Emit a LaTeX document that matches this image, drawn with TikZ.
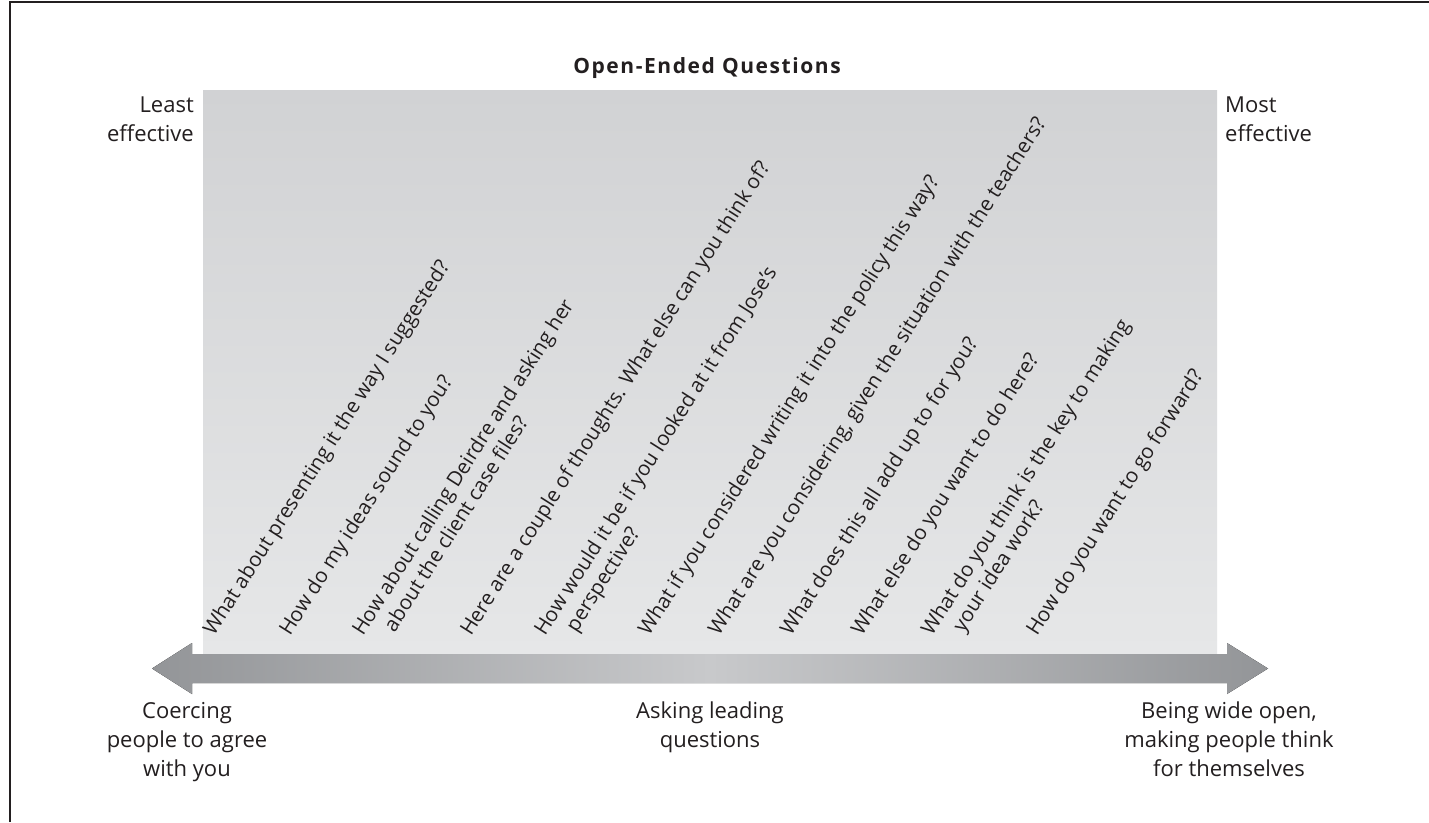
\documentclass[tikz,border=0pt]{standalone}
\usepackage{fontspec}
\setmainfont{Open Sans}
\definecolor{txt}{HTML}{231F20}
\definecolor{paneltop}{HTML}{D1D2D4}
\definecolor{panelbot}{HTML}{E6E7E8}
\definecolor{arrowend}{HTML}{939598}
\definecolor{arrowmid}{HTML}{C8C9CB}
\newcommand{\twoL}[2]{\begin{tabular}[t]{@{}l@{}}#1\\\hspace*{20pt}#2\end{tabular}}
\newcommand{\stackC}[1]{\begin{tabular}[t]{@{}c@{}}#1\end{tabular}}
\newcommand{\stackR}[1]{\begin{tabular}[t]{@{}r@{}}#1\end{tabular}}
\newcommand{\stackLL}[1]{\begin{tabular}[t]{@{}l@{}}#1\end{tabular}}
\begin{document}
\begin{tikzpicture}[x=1pt,y=-1pt,
  lbl/.style={inner sep=0pt, text=txt, font=\fontsize{22}{29}\selectfont},
  qn/.style={inner sep=0pt, text=txt, font=\fontsize{20.5}{24.5}\selectfont,
    rotate=57.5, anchor=base west},
  endlbl/.style={lbl, anchor=base},
  titlelbl/.style={inner sep=0pt, text=txt, anchor=base,
    font=\fontsize{21}{26}\selectfont\bfseries\addfontfeatures{LetterSpace=7.5}}]
\useasboundingbox (0,0) rectangle (1429,822);
\fill[white] (0,0) rectangle (1429,822);
% frame
\draw[line width=2.5pt, txt] (10,822) -- (10,2) -- (1429,2);
% panel
\fill[top color=paneltop, bottom color=panelbot] (203,90) rectangle (1217,654);
% double arrow
\coordinate (ltip) at (152,668.5);
\coordinate (rtip) at (1268,668.5);
\fill[left color=arrowend, right color=arrowend, middle color=arrowmid]
  (ltip) -- (192,643) -- (192,654) -- (1227,654) -- (1227,643) -- (rtip)
  -- (1227,694) -- (1227,683) -- (192,683) -- (192,694) -- cycle;
% title and side labels
\node[titlelbl] (title) at (707,73) {Open-Ended Questions};
\node[lbl, anchor=base east] (least) at (194,112) {\stackR{Least\\effective}};
\node[lbl, anchor=base west] (most) at (1225,112) {\stackLL{Most\\effective}};
% bottom labels
\node[endlbl] (coerce) at (187,718) {\stackC{Coercing\\people to agree\\with you}};
\node[endlbl] (leading) at (710,718) {\stackC{Asking leading\\questions}};
\node[endlbl] (open) at (1229,718) {\stackC{Being wide open,\\making people think\\for themselves}};
% questions
\node[qn] (q1) at (214,637) {What about presenting it the way I suggested?};
\node[qn] (q2) at (290,637) {How do my ideas sound to you?};
\node[qn] (q3) at (363,637) {\twoL{How about calling Deirdre and asking her}{about the client case files?}};
\node[qn] (q4) at (471,637) {Here are a couple of thoughts. What else can you think of?};
\node[qn] (q5) at (545,637) {\twoL{How would it be if you looked at it from Jose’s}{perspective?}};
\node[qn] (q6) at (649,637) {What if you considered writing it into the policy this way?};
\node[qn] (q7) at (719,637) {What are you considering, given the situation with the teachers?};
\node[qn] (q8) at (791,637) {What does this all add up to for you?};
\node[qn] (q9) at (862,637) {What else do you want to do here?};
\node[qn] (q10) at (932,637) {\twoL{What do you think is the key to making}{your idea work?}};
\node[qn] (q11) at (1037,637) {How do you want to go forward?};
\end{tikzpicture}
\end{document}
